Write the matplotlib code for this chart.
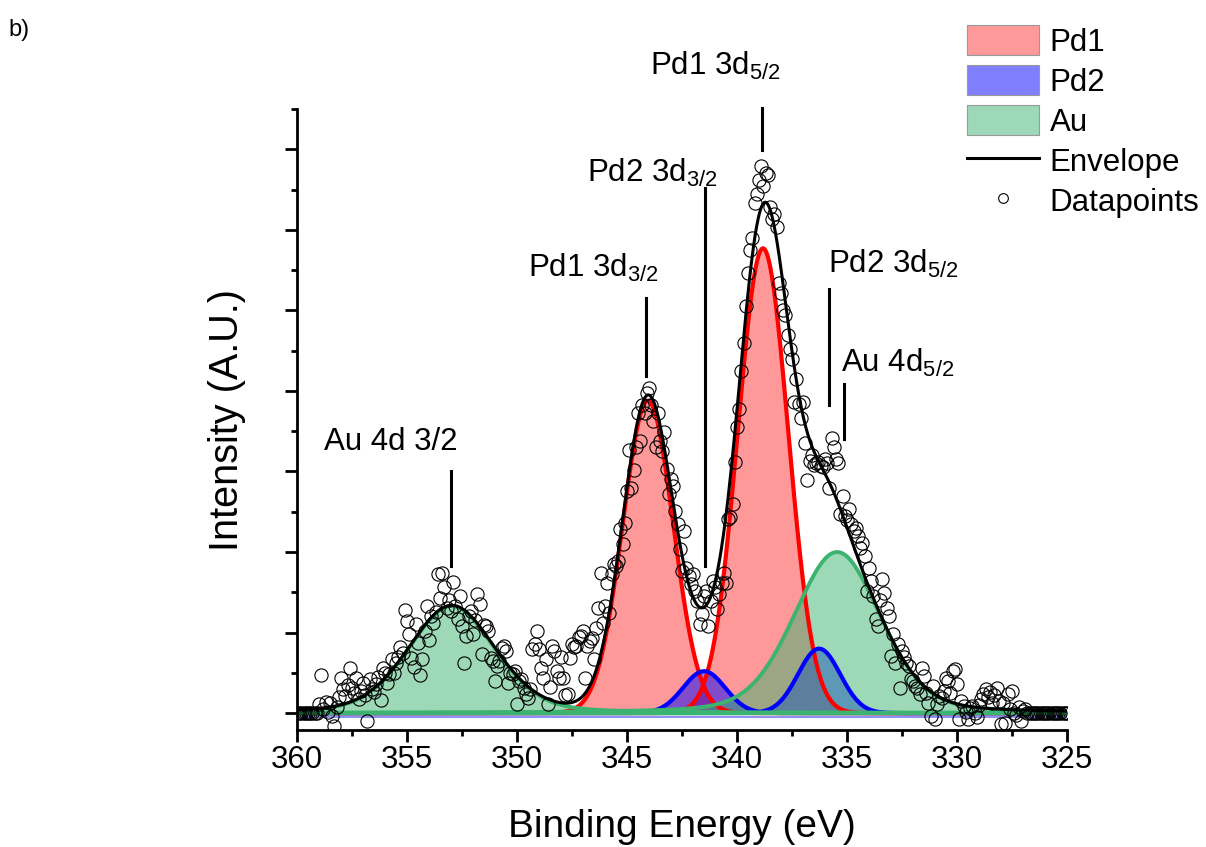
import numpy as np
import matplotlib
matplotlib.use('Agg')
import matplotlib.pyplot as plt
from matplotlib.patches import Patch
from matplotlib.lines import Line2D

plt.rcParams['font.family'] = ['Liberation Sans', 'DejaVu Sans']
plt.rcParams['mathtext.fontset'] = 'custom'
plt.rcParams['mathtext.rm'] = 'Liberation Sans'
plt.rcParams['mathtext.it'] = 'Liberation Sans:italic'

# Pd 3d / Au 4d region, background subtracted, 0.1 eV steps from 360 eV down
E_START = 360.0
E_STEP = 0.1

counts = [0.0] * 10 + [
    0.11, 0.47, 0.05, 0.14, 0.02, 0.12, -0.04, -0.16, 0.08, 0.20,   # 359.0
    0.43, 0.30, 0.21, 0.35, 0.56, 0.31, 0.25, 0.43, 0.18, 0.28,     # 358.0
    0.38, 0.22, -0.10, 0.42, 0.30, 0.26, 0.36, 0.45, 0.16, 0.56,    # 357.0
    0.50, 0.38, 0.48, 0.67, 0.50, 0.62, 0.70, 0.82, 0.75, 1.28,     # 356.0
    1.14, 0.98, 0.68, 0.57, 1.11, 0.87, 0.47, 0.67, 1.02, 1.33,     # 355.0
    0.91, 1.21, 1.12, 1.25, 1.73, 1.43, 1.74, 1.56, 1.30, 1.40,     # 354.0
    1.27, 1.63, 1.33, 1.17, 1.45, 1.08, 0.62, 0.96, 1.20, 1.27,     # 353.0
    0.98, 1.15, 1.48, 1.36, 0.73, 1.10, 1.08, 1.02, 0.68, 0.65,     # 352.0
    0.40, 0.58, 0.65, 0.81, 0.83, 0.77, 0.37, 0.50, 0.48, 0.52,     # 351.0
    0.11, 0.40, 0.42, 0.31, 0.24, 0.19, 0.30, 0.80, 0.86, 1.02,     # 350.0
    0.80, 0.56, 0.44, 0.67, 0.11, 0.33, 0.83, 0.77, 0.52, 0.44,     # 349.0
    0.70, 0.44, 0.23, 0.24, 0.68, 0.86, 0.82, 0.83, 0.94, 0.96,     # 348.0
    1.02, 0.44, 0.83, 0.90, 0.93, 0.67, 1.06, 1.31, 1.74, 1.12,     # 347.0
    1.33, 1.62, 1.24, 1.73, 1.85, 1.83, 1.89, 2.29, 2.10, 2.36,     # 346.0
    2.76, 3.27, 2.80, 3.02, 3.30, 3.72, 3.38, 3.82, 3.72, 3.97,     # 345.0
    4.04, 3.82, 3.63, 3.31, 3.73, 3.38, 3.26, 3.49, 3.03, 2.72,     # 344.0
    2.91, 2.82, 2.51, 2.35, 2.04, 1.77, 2.26, 1.80, 1.70, 1.60,     # 343.0
    1.73, 1.52, 1.39, 1.11, 1.23, 1.46, 1.52, 1.08, 1.39, 1.64,     # 342.0
    1.56, 1.29, 1.48, 1.62, 1.74, 1.62, 2.41, 2.43, 2.60, 3.12,     # 341.0
    3.55, 3.78, 4.25, 4.60, 5.06, 5.46, 5.75, 5.90, 6.33, 6.45,     # 340.0
    6.62, 6.79, 6.55, 6.70, 6.68, 6.28, 6.14, 6.20, 6.03, 5.34,     # 339.0
    5.21, 5.00, 4.94, 4.70, 4.52, 4.40, 3.86, 4.15, 3.84, 3.67,     # 338.0
    3.86, 3.35, 2.89, 3.13, 3.20, 3.08, 3.10, 3.12, 3.07, 3.05,     # 337.0
    3.15, 3.10, 2.80, 3.42, 3.31, 3.16, 3.10, 2.47, 2.70, 2.45,     # 336.0
    2.40, 2.54, 2.35, 2.26, 2.30, 2.20, 2.05, 2.11, 1.95, 1.52,     # 335.0
    1.80, 1.64, 1.46, 1.17, 1.08, 1.40, 1.67, 1.49, 1.30, 1.21,     # 334.0
    0.71, 0.98, 0.62, 0.86, 0.31, 0.77, 0.70, 0.62, 0.58, 0.42,     # 333.0
    0.40, 0.34, 0.31, 0.24, 0.56, 0.46, 0.25, 0.12, -0.04, 0.34,    # 332.0
    -0.07, 0.11, 0.21, 0.19, 0.27, 0.44, 0.40, 0.25, 0.52, 0.55,    # 331.0
    0.36, -0.07, 0.15, 0.09, 0.02, -0.07, 0.06, 0.09, 0.00, -0.05,  # 330.0
    0.10, 0.18, 0.24, 0.30, 0.20, 0.26, 0.12, 0.22, 0.31, 0.15,     # 329.0
    -0.14, 0.12, -0.12, 0.24, 0.05, 0.27, 0.00, -0.02, 0.08, -0.10, # 328.0
    0.03, 0.05,                                                     # 327.0
] + [0.0] * 19

# fitted components: centre (eV), height, FWHM (eV), Lorentzian fraction
pd1_centres = [344.05, 338.82]
pd1_heights = [3.88, 5.77]
pd1_fwhm = 2.7
pd1_lor = 0.0

pd2_centres = [341.5, 336.27]
pd2_heights = [0.52, 0.80]
pd2_fwhm = 2.25
pd2_lor = 0.0

au_centres = [352.97, 335.45]
au_heights = [1.33, 2.00]
au_fwhm = 4.65
au_lor = 0.25

# peak labels: text, text anchor (eV, intensity), marker line x, y from, y to
peak_labels = ['Au 4d 3/2', 'Pd1 3d$_{3/2}$', 'Pd2 3d$_{3/2}$',
               'Pd1 3d$_{5/2}$', 'Pd2 3d$_{5/2}$', 'Au 4d$_{5/2}$']
label_xy = [(355.73, 3.27), (346.55, 5.42), (343.86, 6.59),
            (341.0, 7.92), (332.9, 5.47), (332.7, 4.23)]
label_lines = [(353.0, 3.01, 1.83), (344.14, 5.15, 4.18), (341.45, 6.52, 1.83),
               (338.86, 7.51, 6.99), (335.82, 5.27, 3.82), (335.14, 4.08, 3.40)]


def pseudo_voigt(x, centre, height, fwhm, lor):
    sigma = fwhm / 2.3548
    gamma = fwhm / 2.0
    gauss = np.exp(-(x - centre) ** 2 / (2 * sigma ** 2))
    lorentz = 1.0 / (1.0 + ((x - centre) / gamma) ** 2)
    return height * ((1 - lor) * gauss + lor * lorentz)


energy = E_START - E_STEP * np.arange(len(counts))
fine = np.linspace(360, 325, 1400)

fig = plt.figure(figsize=(12.06, 8.47), dpi=100)
ax = fig.add_axes([0.2463, 0.1381, 0.6385, 0.7332])

envelope = np.zeros_like(fine)

# Pd1 doublet
for c, h in zip(pd1_centres, pd1_heights):
    y = pseudo_voigt(fine, c, h, pd1_fwhm, pd1_lor)
    envelope += y
    ax.fill_between(fine, 0, y, color='red', alpha=0.4, lw=0)
    ax.plot(fine, y, color='red', lw=3)

# Pd2 doublet
for c, h in zip(pd2_centres, pd2_heights):
    y = pseudo_voigt(fine, c, h, pd2_fwhm, pd2_lor)
    envelope += y
    ax.fill_between(fine, 0, y, color='blue', alpha=0.5, lw=0)
    ax.plot(fine, y, color='blue', lw=3)

ax.axhline(-0.045, color='#7a7af0', lw=1.2)

# Au 4d doublet, drawn last so it tints what lies under it
for c, h in zip(au_centres, au_heights):
    y = pseudo_voigt(fine, c, h, au_fwhm, au_lor)
    envelope += y
    ax.fill_between(fine, 0, y, color='#3CB371', alpha=0.5, lw=0)
    ax.plot(fine, y, color='#3CB371', lw=2.8)

ax.axhline(0, color='#3CB371', lw=3.2)

ax.plot(fine, envelope, color='black', lw=2.2)
ax.plot(energy, counts, 'o', mfc='none', mec='black', ms=9.5, mew=0.8)

for text, (tx, ty), (lx, y0, y1) in zip(peak_labels, label_xy, label_lines):
    ax.text(tx, ty, text, ha='center', va='baseline', fontsize=22.5, clip_on=False)
    ax.plot([lx, lx], [y0, y1], color='black', lw=2.2, clip_on=False)

ax.set_xlim(360, 325)
ax.set_ylim(-0.21, 7.5)
ax.set_xticks(np.arange(360, 324, -5))
ax.set_xticks(np.arange(357.5, 325, -5), minor=True)
ax.set_yticks(np.arange(0, 7.5, 1))
ax.set_yticks(np.arange(0.5, 7.6, 1), minor=True)
ax.set_yticklabels([])
ax.tick_params(which='both', direction='out', width=2, labelsize=22.5, pad=2)
ax.tick_params(which='major', length=8.5)
ax.tick_params(which='minor', length=4.5)
for side in ['top', 'right']:
    ax.spines[side].set_visible(False)
for side in ['left', 'bottom']:
    ax.spines[side].set_linewidth(2)

ax.set_xlabel('Binding Energy (eV)', fontsize=28, labelpad=25)
ax.set_ylabel('Intensity (A.U.)', fontsize=28.5, labelpad=26)

handles = [Patch(facecolor='#ff9999', edgecolor='#999999', lw=0.8),
           Patch(facecolor='#8080ff', edgecolor='#999999', lw=0.8),
           Patch(facecolor='#9dd9b8', edgecolor='#999999', lw=0.8),
           Line2D([], [], color='black', lw=2.2),
           Line2D([], [], ls='none', marker='o', mfc='none', mec='black', ms=7, mew=0.8)]
fig.legend(handles, ['Pd1', 'Pd2', 'Au', 'Envelope', 'Datapoints'],
           loc='upper left', bbox_to_anchor=(0.8018, 0.97), frameon=False,
           fontsize=22.5, handlelength=2.3, handleheight=1.08, labelspacing=0.24,
           handletextpad=0.35, borderpad=0, borderaxespad=0)

fig.text(0.007, 0.958, 'b)', fontsize=17)

fig.savefig('out.png', dpi=100)
